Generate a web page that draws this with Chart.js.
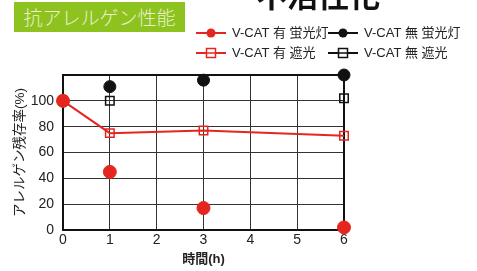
<!DOCTYPE html>
<html>
<head>
<meta charset="utf-8">
<script src="https://cdn.jsdelivr.net/npm/chart.js@4"></script>
<style>
  html, body { margin: 0; padding: 0; background: #fff; }
  #wrap { position: relative; width: 477px; height: 271px; overflow: hidden; }
  #badge {
    position: absolute; left: 14px; top: 2px; width: 171px; height: 30px;
    background: #8dc21f; color: #e9f2cf;
    font: 300 19px 'Noto Sans CJK JP', sans-serif; line-height: 30px; text-align: center;
  }
  #title {
    position: absolute; left: 256px; top: -29px;
    font: bold 31px 'Noto Sans CJK JP', sans-serif; color: #111; white-space: nowrap;
  }
  canvas { position: absolute; left: 0; top: 0; }
</style>
</head>
<body>
<div id="wrap">
  <canvas id="chart" width="477" height="271"></canvas>
  <div id="badge">抗アレルゲン性能</div>
  <div id="title">不活性化</div>
</div>
<script>
// data
const hours = [0, 1, 3, 6];
const withLight = [100, 45, 17, 2];      // V-CAT 有 蛍光灯
const withDark = [100, 75, 77, 73];      // V-CAT 有 遮光
const noLightHours = [1, 3, 6];
const noLight = [111, 116, 120];         // V-CAT 無 蛍光灯
const noDarkHours = [1, 6];
const noDark = [100, 102];               // V-CAT 無 遮光
const yTicks = [0, 20, 40, 60, 80, 100];
const seriesNames = ['V-CAT 有 蛍光灯', 'V-CAT 無 蛍光灯', 'V-CAT 有 遮光', 'V-CAT 無 遮光'];

const RED = '#e52620';
const BLACK = '#111';
const FONT = "'Liberation Sans', 'Noto Sans CJK JP', sans-serif";

const pts = (xs, ys) => xs.map((x, i) => ({ x: x, y: ys[i] }));

// frame + hand placed legend
const framePlugin = {
  id: 'frame',
  beforeDatasetsDraw(chart) {
    const a = chart.chartArea, ctx = chart.ctx;
    ctx.save();
    ctx.strokeStyle = BLACK;
    ctx.lineWidth = 2;
    ctx.strokeRect(a.left, a.top, a.right - a.left, a.bottom - a.top);
    ctx.restore();
  },
  afterDraw(chart) {
    const ctx = chart.ctx;
    const items = [
      { x: 196, y: 33, color: RED, shape: 'circle' },
      { x: 328, y: 33, color: BLACK, shape: 'circle' },
      { x: 196, y: 53, color: RED, shape: 'rect' },
      { x: 328, y: 53, color: BLACK, shape: 'rect' }
    ];
    ctx.save();
    items.forEach((it, i) => {
      ctx.strokeStyle = it.color;
      ctx.lineWidth = 2;
      ctx.beginPath();
      ctx.moveTo(it.x, it.y);
      ctx.lineTo(it.x + 30, it.y);
      ctx.stroke();
      const cx = it.x + 15;
      if (it.shape === 'circle') {
        ctx.fillStyle = it.color;
        ctx.beginPath();
        ctx.arc(cx, it.y, 4.5, 0, Math.PI * 2);
        ctx.fill();
      } else {
        ctx.lineWidth = 1.5;
        ctx.fillStyle = '#fff';
        ctx.fillRect(cx - 4.5, it.y - 4.5, 9, 9);
        ctx.strokeRect(cx - 4.5, it.y - 4.5, 9, 9);
        ctx.beginPath();
        ctx.moveTo(cx - 4.5, it.y);
        ctx.lineTo(cx + 4.5, it.y);
        ctx.stroke();
      }
      ctx.fillStyle = '#222';
      ctx.font = "13px " + FONT;
      ctx.textBaseline = 'middle';
      ctx.fillText(seriesNames[i], it.x + 36, it.y);
    });
    ctx.restore();
  }
};

new Chart(document.getElementById('chart'), {
  type: 'line',
  data: {
    datasets: [
      {
        label: seriesNames[2],
        data: pts(hours, withDark),
        borderColor: RED, borderWidth: 2,
        pointStyle: 'rect', pointRadius: 6,
        pointBorderColor: RED, pointBorderWidth: 1.5,
        pointBackgroundColor: 'rgba(0,0,0,0)',
        clip: false
      },
      {
        label: seriesNames[0],
        data: pts(hours, withLight),
        showLine: false,
        pointStyle: 'circle', pointRadius: 6.5,
        pointBackgroundColor: RED, pointBorderColor: RED,
        clip: false
      },
      {
        label: seriesNames[1],
        data: pts(noLightHours, noLight),
        showLine: false,
        pointStyle: 'circle', pointRadius: 6,
        pointBackgroundColor: BLACK, pointBorderColor: BLACK,
        clip: false
      },
      {
        label: seriesNames[3],
        data: pts(noDarkHours, noDark),
        showLine: false,
        pointStyle: 'rect', pointRadius: 6,
        pointBorderColor: BLACK, pointBorderWidth: 1.5,
        pointBackgroundColor: 'rgba(0,0,0,0)',
        clip: false
      }
    ]
  },
  options: {
    responsive: false,
    animation: false,
    devicePixelRatio: 1,
    layout: { padding: { top: 75, right: 133, left: 0, bottom: 0 } },
    plugins: { legend: { display: false }, tooltip: { enabled: false } },
    scales: {
      x: {
        type: 'linear', min: 0, max: 6,
        ticks: { stepSize: 1, color: '#222', font: { family: FONT, size: 14 }, padding: 2 },
        grid: { color: '#333', lineWidth: 1, drawTicks: false },
        border: { display: false },
        title: { display: true, text: '時間(h)', color: '#222', font: { family: FONT, size: 13, weight: 'bold' }, padding: { top: 2 } },
        afterFit(s) { s.height = 41; }
      },
      y: {
        min: 0, max: 120,
        afterBuildTicks(s) { s.ticks = yTicks.concat([120]).map(v => ({ value: v })); },
        ticks: {
          color: '#222', font: { family: FONT, size: 14 }, padding: 9,
          callback: v => yTicks.includes(v) ? v : ''
        },
        grid: { color: '#333', lineWidth: 1, drawTicks: false },
        border: { display: false },
        title: { display: true, text: 'アレルゲン残存率(%)', color: '#222', font: { family: FONT, size: 13.5 }, padding: { top: 12, bottom: 0 } },
        afterFit(s) { s.width = 63; }
      }
    }
  },
  plugins: [framePlugin]
});
</script>
</body>
</html>
